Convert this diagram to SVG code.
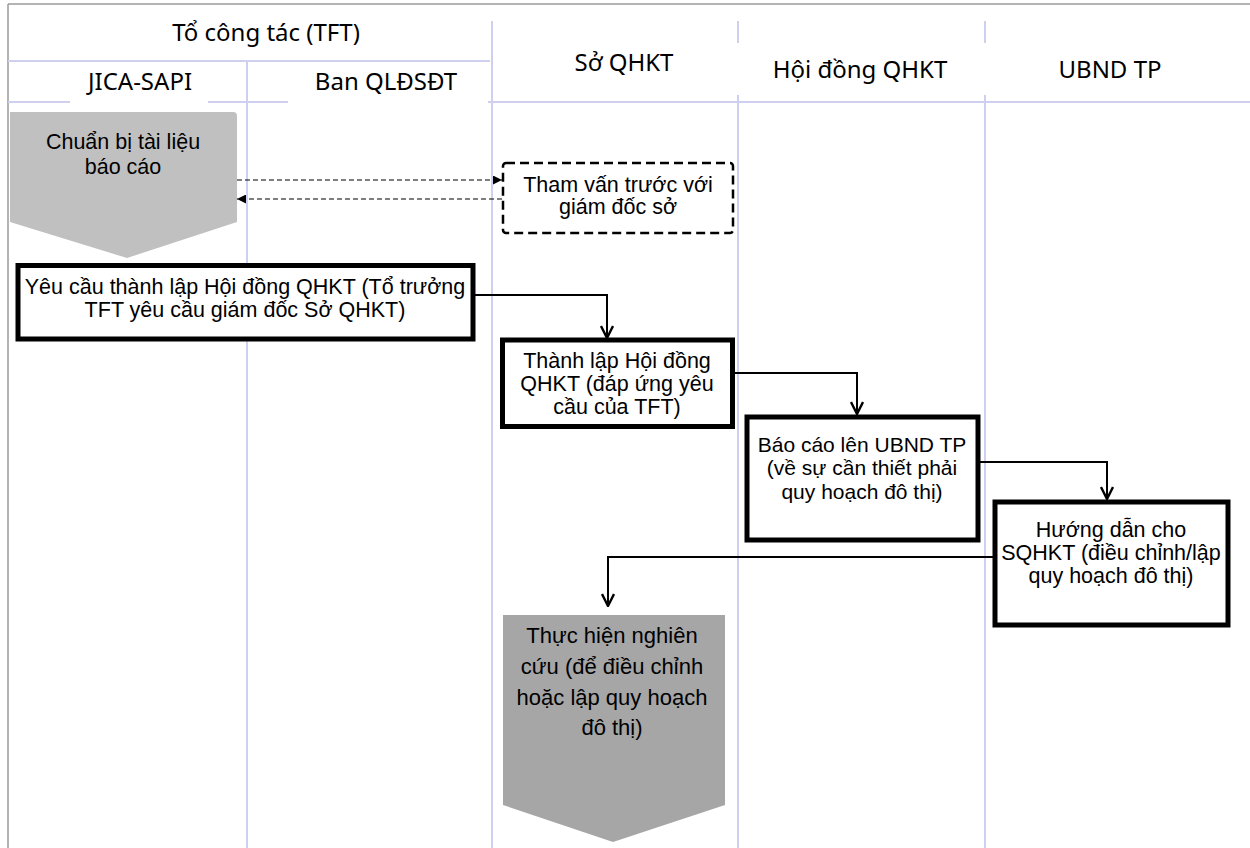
<svg xmlns="http://www.w3.org/2000/svg" width="1250" height="848" viewBox="0 0 1250 848">
<style>
.hdr{font-family:"Noto Sans","Open Sans","DejaVu Sans",sans-serif;font-size:24px;fill:#000;text-anchor:middle}
.txt{font-family:"Liberation Sans",Arial,sans-serif;font-size:21.5px;fill:#000;text-anchor:middle}
.lane{stroke:#cfd0ef;stroke-width:2;fill:none}
.box{fill:#fff;stroke:#000;stroke-width:5}
.conn{fill:none;stroke:#000;stroke-width:2}
.dash{fill:none;stroke:#000;stroke-width:1;stroke-dasharray:5,3}
</style>
<defs>
<marker id="vhead" markerUnits="userSpaceOnUse" viewBox="0 0 14 14" refX="13" refY="7" markerWidth="14" markerHeight="14" orient="auto">
<path d="M1,1 L13,7 L1,13" fill="none" stroke="#000" stroke-width="2.4"/>
</marker>
<marker id="thead" markerUnits="userSpaceOnUse" viewBox="0 0 10 10" refX="10" refY="5" markerWidth="9" markerHeight="9" orient="auto">
<path d="M0,0 L10,5 L0,10 Z" fill="#000"/>
</marker>
</defs>
<rect x="0" y="0" width="1250" height="848" fill="#fff"/>
<g id="frame">
<path d="M8,4 H1250 M8,4 V848" stroke="#9a9a9a" stroke-width="1.5" fill="none"/>
<path class="lane" d="M8,61 H490"/>
<path class="lane" d="M8,102 H70 M208,102 H288 M488,102 H1250"/>
<path class="lane" d="M247,61 V848"/>
<path class="lane" d="M492,21 V848"/>
<path class="lane" d="M738,21 V43 M738,95 V848"/>
<path class="lane" d="M985,21 V43 M985,95 V848"/>
</g>
<g id="headers">
<text class="hdr" x="266" y="41">Tổ công tác (TFT)</text>
<text class="hdr" x="140" y="90">JICA-SAPI</text>
<text class="hdr" x="386" y="90">Ban QLĐSĐT</text>
<text class="hdr" x="624" y="71">Sở QHKT</text>
<text class="hdr" x="860" y="78">Hội đồng QHKT</text>
<text class="hdr" x="1110" y="78">UBND TP</text>
</g>
<g id="connectors">
<path class="dash" d="M237,180 H502" marker-end="url(#thead)"/>
<path class="dash" d="M502,199 H237" marker-end="url(#thead)"/>
<path class="conn" d="M475,295 H607 V338" marker-end="url(#vhead)"/>
<path class="conn" d="M735,373 H857 V414" marker-end="url(#vhead)"/>
<path class="conn" d="M978,462 H1107 V499" marker-end="url(#vhead)"/>
<path class="conn" d="M995,557 H608 V606" marker-end="url(#vhead)"/>
</g>
<g id="n1">
<path d="M10,112 H233 Q237,112 237,116 V222 L127,258 L10,222 Z" fill="#c0c0c0"/>
<text class="txt" x="123" y="149">Chuẩn bị tài liệu</text>
<text class="txt" x="123" y="174">báo cáo</text>
</g>
<g id="n_consult">
<rect x="503" y="163" width="230" height="70" rx="3" fill="#fff" stroke="#000" stroke-width="2.5" stroke-dasharray="9,5"/>
<text class="txt" x="618" y="192">Tham vấn trước với</text>
<text class="txt" x="618" y="214">giám đốc sở</text>
</g>
<g id="n2">
<rect class="box" x="18" y="265.5" width="455" height="73.5"/>
<text class="txt" x="245" y="294">Yêu cầu thành lập Hội đồng QHKT (Tổ trưởng</text>
<text class="txt" x="245" y="317">TFT yêu cầu giám đốc Sở QHKT)</text>
</g>
<g id="n3">
<rect class="box" x="502.5" y="340" width="230" height="86.5"/>
<text class="txt" x="617" y="368">Thành lập Hội đồng</text>
<text class="txt" x="617" y="391">QHKT (đáp ứng yêu</text>
<text class="txt" x="617" y="414">cầu của TFT)</text>
</g>
<g id="n4">
<rect class="box" x="747" y="417" width="231" height="123"/>
<text class="txt" x="862" y="452" style="font-size:21px">Báo cáo lên UBND TP</text>
<text class="txt" x="862" y="475" style="font-size:21px">(về sự cần thiết phải</text>
<text class="txt" x="862" y="499" style="font-size:21px">quy hoạch đô thị)</text>
</g>
<g id="n5">
<rect class="box" x="995" y="502" width="233" height="123"/>
<text class="txt" x="1111" y="537">Hướng dẫn cho</text>
<text class="txt" x="1111" y="560">SQHKT (điều chỉnh/lập</text>
<text class="txt" x="1111" y="583">quy hoạch đô thị)</text>
</g>
<g id="n6">
<path d="M503,615 H725 V805 L613,842 L503,805 Z" fill="#a6a6a6"/>
<text class="txt" x="612" y="643" style="font-size:22px">Thực hiện nghiên</text>
<text class="txt" x="612" y="674" style="font-size:22px">cứu (để điều chỉnh</text>
<text class="txt" x="612" y="705" style="font-size:22px">hoặc lập quy hoạch</text>
<text class="txt" x="612" y="735" style="font-size:22px">đô thị)</text>
</g>
</svg>
